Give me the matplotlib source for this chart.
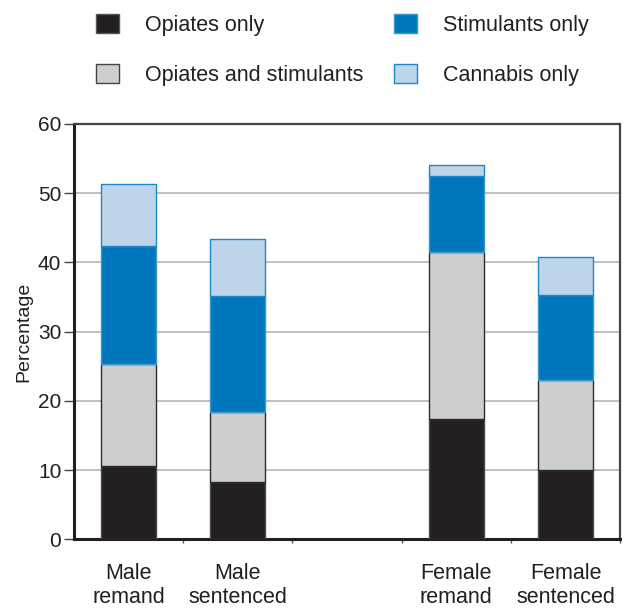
import numpy as np
import matplotlib
matplotlib.use('Agg')
import matplotlib.pyplot as plt
from matplotlib.patches import Patch

plt.rcParams['font.family'] = ['Liberation Sans', 'DejaVu Sans']

groups = ['Male\nremand', 'Male\nsentenced', '', 'Female\nremand', 'Female\nsentenced']
series = ['Opiates only', 'Opiates and stimulants', 'Stimulants only', 'Cannabis only']
opiates = [10.6, 8.3, 0, 17.3, 10.0]
opi_stim = [14.7, 10.1, 0, 24.2, 13.0]
stimulants = [17.0, 16.7, 0, 10.9, 12.3]
cannabis = [9.0, 8.2, 0, 1.6, 5.4]

cols = ['#231f20', '#cdced0', '#0077bd', '#bed4ea']
edges = ['#4a4a4a', '#2b2b2b', '#3a98d4', '#1f86c8']
txt = '#231f20'

fig = plt.figure(figsize=(6.31, 6.10), dpi=100)
ax = fig.add_axes([0.117, 0.116, 0.866, 0.681])

x = np.arange(len(groups))
keep = np.array([g != '' for g in groups])
bottom = np.zeros(len(groups))
for vals, c, ec in zip([opiates, opi_stim, stimulants, cannabis], cols, edges):
    v = np.array(vals)
    ax.bar(x[keep], v[keep], 0.5, bottom=bottom[keep], color=c, edgecolor=ec, lw=1, zorder=3)
    bottom += v

ax.set_xlim(-0.5, 4.5)
ax.set_ylim(0, 60)
ax.set_yticks(np.arange(0, 61, 10))
ax.yaxis.grid(True, color='#b4b4b4', lw=1.2, zorder=0)
ax.set_axisbelow(True)
ax.tick_params(axis='y', length=7, width=1, colors='#444444', labelcolor=txt, labelsize=15, pad=2)
ax.set_xticks(x[keep])
ax.set_xticklabels([g for g in groups if g], fontsize=15.5, color=txt, linespacing=1.22)
ax.tick_params(axis='x', length=0, pad=17)
ax.set_xticks(np.arange(0.5, 4.6, 1), minor=True)
ax.tick_params(axis='x', which='minor', length=3, width=1, colors='#555555')
ax.set_ylabel('Percentage', fontsize=14, color=txt, labelpad=4)

for s in ['left', 'bottom']:
    ax.spines[s].set_linewidth(2.2)
    ax.spines[s].set_color('#231f20')
for s in ['top', 'right']:
    ax.spines[s].set_linewidth(1.6)
    ax.spines[s].set_color('#444444')

handles = [Patch(facecolor=c, edgecolor=e, lw=1) for c, e in zip(cols, ['#555555', '#444444', '#3a98d4', '#1f86c8'])]
fig.legend(handles, series, loc='upper left', bbox_to_anchor=(0.152, 0.977), ncol=2, frameon=False,
           fontsize=15.5, handlelength=1.07, handleheight=1.0, handletextpad=1.2, borderpad=0,
           borderaxespad=0, columnspacing=1.45, labelspacing=1.3, labelcolor=txt)

fig.savefig('out.png', dpi=100)
